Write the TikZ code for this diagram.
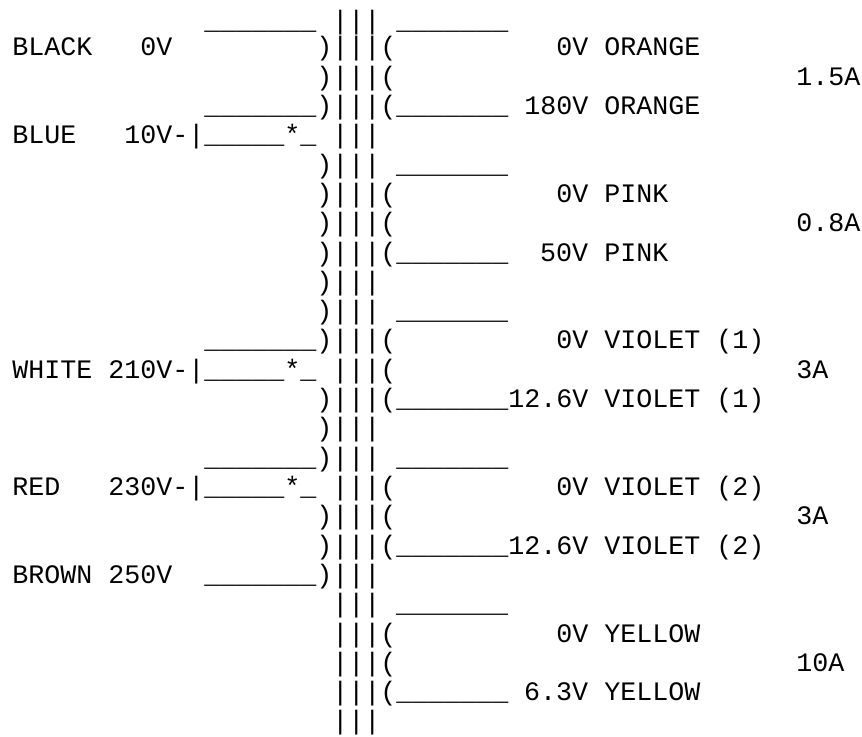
\documentclass[tikz,border=0pt]{standalone}
\usepackage{fontspec}
\newfontfamily\mono{Liberation Mono}
\newlength{\cw}
\setlength{\cw}{12pt}
\newcommand{\pad}[1]{\hspace*{#1\cw}}
\newcommand{\wire}{\_\_\_\_\_\_\_}
\newcommand{\tap}{\_\_\_\_\_*\_}

\begin{document}
\begin{tikzpicture}[x=12pt, y=-21.975pt, line/.style = {anchor=base west, inner sep=0pt, font=\mono\fontsize{20pt}{22pt}\selectfont}]
\useasboundingbox (-0.75,-0.911) rectangle (53.125,24.242);

\node[line] (T) at (0,0.1) {\pad{12}\wire\pad{1}|||\pad{1}\wire};
\node[line] (Bk) at (0,1) {BLACK\pad{3}0V\pad{9})|||(\pad{10}0V ORANGE};
\node[line] (O) at (0,2) {\pad{19})|||(\pad{25}1.5A};
\node[line] (Or) at (0,3) {\pad{12}\wire)|||(\wire\pad{1}180V ORANGE};
\node[line] (Bl) at (0,4) {BLUE\pad{3}10V-|\tap\pad{1}|||};
\node[line] (P) at (0,5) {\pad{19})|||\pad{1}\wire};
\node[line] (P0) at (0,6) {\pad{19})|||(\pad{10}0V PINK};
\node[line] (P1) at (0,7) {\pad{19})|||(\pad{25}0.8A};
\node[line] (P2) at (0,8) {\pad{19})|||(\wire\pad{2}50V PINK};
\node[line] (C1) at (0,9) {\pad{19})|||};
\node[line] (V) at (0,10) {\pad{19})|||\pad{1}\wire};
\node[line] (V0) at (0,11) {\pad{12}\wire)|||(\pad{10}0V VIOLET (1)};
\node[line] (W) at (0,12) {WHITE\pad{1}210V-|\tap\pad{1}|||(\pad{25}3A};
\node[line] (V1) at (0,13) {\pad{19})|||(\wire12.6V VIOLET (1)};
\node[line] (C2) at (0,14) {\pad{19})|||};
\node[line] (U) at (0,15) {\pad{12}\wire)|||\pad{1}\wire};
\node[line] (R) at (0,16) {RED\pad{3}230V-|\tap\pad{1}|||(\pad{10}0V VIOLET (2)};
\node[line] (U1) at (0,17) {\pad{19})|||(\pad{25}3A};
\node[line] (U2) at (0,18) {\pad{19})|||(\wire12.6V VIOLET (2)};
\node[line] (Br) at (0,19) {BROWN 250V\pad{2}\wire)|||};
\node[line] (Y) at (0,20) {\pad{20}|||\pad{1}\wire};
\node[line] (Y0) at (0,21) {\pad{20}|||(\pad{10}0V YELLOW};
\node[line] (Y1) at (0,22) {\pad{20}|||(\pad{25}10A};
\node[line] (Y2) at (0,23) {\pad{20}|||(\wire\pad{1}6.3V YELLOW};
\node[line] (E) at (0,24) {\pad{20}|||};
\end{tikzpicture}
\end{document}
